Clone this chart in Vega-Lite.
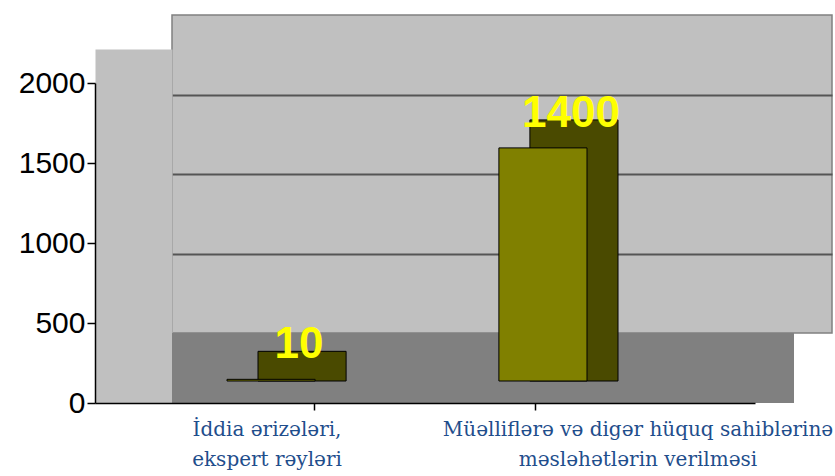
{
  "$schema": "https://vega.github.io/schema/vega-lite/v6.json",
  "width": 660,
  "height": 318,
  "autosize": {"type": "none"},
  "padding": {"left": 172, "top": 15, "right": 3, "bottom": 143},
  "background": "white",
  "config": {"view": {"fill": "#c0c0c0", "stroke": "#808080", "strokeWidth": 1.5}},
  "data": {
    "values": [
      {"category": "İddia ərizələri,\nekspert rəyləri", "value": 10},
      {"category": "Müəlliflərə və digər hüquq sahiblərinə\nməsləhətlərin verilməsi", "value": 1400}
    ]
  },
  "layer": [
    {
      "mark": {"type": "point", "opacity": 0},
      "encoding": {
        "x": {"field": "category", "type": "nominal", "sort": null,
          "scale": {"type": "band", "range": [-77, 583], "paddingInner": 0, "paddingOuter": 0.493},
          "axis": {"orient": "bottom", "offset": 70, "labels": false, "title": null, "domain": true, "domainColor": "#000000", "domainWidth": 1.5,
            "ticks": true, "tickColor": "#000000", "tickSize": 7, "tickWidth": 1.5, "grid": false, "zindex": 1}},
        "y": {"field": "value", "type": "quantitative",
          "scale": {"domain": [0, 2000], "range": [388, 34]},
          "axis": {"orient": "left", "offset": 38.5, "labels": false, "ticks": false, "grid": false, "title": null,
            "domain": true, "domainColor": "#c0c0c0", "domainWidth": 77, "zindex": 0}}
      }
    },
    {
      "mark": {"type": "rule", "color": "#808080", "strokeWidth": 70, "yOffset": 35, "xOffset": -38},
      "encoding": {
        "y": {"datum": 0, "type": "quantitative", "scale": {"domain": [0, 2000]},
          "axis": {"orient": "right", "grid": true, "gridColor": "#555555", "gridWidth": 2, "labels": false, "ticks": false, "domain": false, "values": [500, 1000, 1500], "title": null}}
      }
    },
    {
      "mark": {"type": "point", "opacity": 0},
      "encoding": {
        "x": {"field": "category", "type": "nominal", "sort": null,
          "scale": {"type": "band", "range": [-90.5, 651.5], "paddingInner": 0, "paddingOuter": 0},
          "axis": {"orient": "bottom", "offset": 70, "domain": false, "ticks": false, "title": null,
            "labelExpr": "split(datum.label, '\\n')", "labelFont": "DejaVu Serif", "labelFontSize": 20,
            "labelColor": "#1F4E8C", "labelPadding": 16, "labelLineHeight": 30, "labelLimit": 0,
            "labelOverlap": false, "labelAngle": 0}},
        "y": {"field": "value", "type": "quantitative",
          "scale": {"domain": [0, 2000], "range": [388, 68]},
          "axis": {"orient": "left", "offset": 77, "values": [0, 500, 1000, 1500, 2000], "format": "d", "grid": false, "title": null,
            "labelFont": "Liberation Sans", "labelFontSize": 30, "labelColor": "#000000", "labelPadding": 2,
            "tickColor": "#000000", "tickSize": 8, "tickWidth": 1.5, "domainColor": "#000000", "domainWidth": 1.5, "zindex": 2}}
      }
    },
    {
      "mark": {"type": "bar", "color": "#4a4a00", "stroke": "#000000", "strokeWidth": 1, "xOffset": 31, "yOffset": -28, "y2Offset": 0},
      "encoding": {
        "x": {"field": "category", "type": "nominal", "sort": null,
          "scale": {"type": "band", "range": [55, 415], "paddingInner": 0.676, "paddingOuter": 0}, "axis": null},
        "y": {"field": "value", "type": "quantitative", "scale": {"domain": [0, 2000], "range": [366, 33]}, "axis": null},
        "y2": {"datum": 0}
      }
    },
    {
      "mark": {"type": "bar", "color": "#808000", "stroke": "#000000", "strokeWidth": 1},
      "encoding": {
        "x": {"field": "category", "type": "nominal", "sort": null,
          "scale": {"type": "band", "range": [55, 415], "paddingInner": 0.676, "paddingOuter": 0}, "axis": null},
        "y": {"field": "value", "type": "quantitative", "scale": {"domain": [0, 2000], "range": [366, 33]}, "axis": null}
      }
    },
    {
      "mark": {"type": "text", "color": "#ffff00", "font": "Liberation Sans", "fontWeight": "bold", "fontSize": 44, "dx": 28, "dy": -21, "baseline": "alphabetic", "align": "center"},
      "encoding": {
        "x": {"field": "category", "type": "nominal", "sort": null,
          "scale": {"type": "band", "range": [55, 415], "paddingInner": 0.676, "paddingOuter": 0}, "axis": null},
        "y": {"field": "value", "type": "quantitative", "scale": {"domain": [0, 2000], "range": [366, 33]}, "axis": null},
        "text": {"field": "value", "type": "quantitative"}
      }
    }
  ],
  "resolve": {"scale": {"x": "independent", "y": "independent"}}
}
